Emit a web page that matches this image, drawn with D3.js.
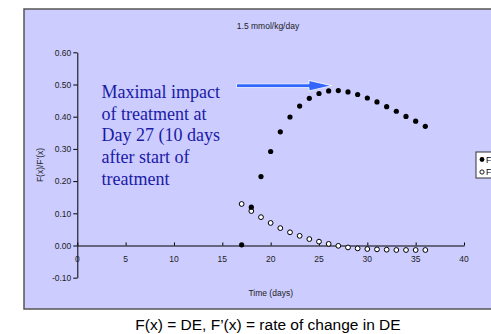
<!DOCTYPE html>
<meta charset="utf-8">
<style>
body { margin: 0; background: #fff; }
text { font-family: Arial, "Liberation Sans", sans-serif; }
</style>
<body>
<script src="https://d3js.org/d3.v7.min.js"></script>
<script>
var width = 491,
    height = 334;

// days, F(x) = DE, F'(x) = rate of change in DE
var days = [17, 18, 19, 20, 21, 22, 23, 24, 25, 26, 27, 28, 29, 30, 31, 32, 33, 34, 35, 36];
var fx = [0.002, 0.119, 0.214, 0.292, 0.353, 0.399, 0.433, 0.457, 0.472, 0.480,
          0.481, 0.477, 0.469, 0.458, 0.446, 0.431, 0.417, 0.401, 0.386, 0.370];
var dfx = [0.129, 0.107, 0.088, 0.070, 0.054, 0.041, 0.030, 0.020, 0.012, 0.005,
           -0.001, -0.006, -0.009, -0.011, -0.012, -0.013, -0.014, -0.014, -0.014, -0.014];
var xTicks = [0, 5, 10, 15, 20, 25, 30, 35, 40];
var yTicks = [-0.1, 0, 0.1, 0.2, 0.3, 0.4, 0.5, 0.6];
var note = ["Maximal impact", "of treatment at", "Day 27 (10 days", "after start of", "treatment"];

var svg = d3.select("body").append("svg")
    .attr("width", width)
    .attr("height", height);

// plot frame
svg.append("rect")
    .attr("x", 24).attr("y", 9)
    .attr("width", 480).attr("height", 300)
    .style("fill", "#ccccff")
    .style("stroke", "#555555")
    .style("stroke-width", 1.5);

var x = d3.scaleLinear().domain([0, 40]).range([77.3, 464]);
var y = d3.scaleLinear().domain([-0.1, 0.6]).range([277.7, 52.3]);

svg.append("text")
    .attr("x", 268).attr("y", 29)
    .attr("text-anchor", "middle")
    .style("font-size", "8.5px")
    .style("fill", "#222")
    .text("1.5 mmol/kg/day");

// y axis (plain hyphen for negatives, like the original)
var fmt = d3.format(".2f");
var yAxis = svg.append("g")
    .attr("transform", "translate(" + x(0) + ",0)")
    .call(d3.axisLeft(y).tickValues(yTicks).tickSize(4).tickSizeOuter(0)
      .tickFormat(function(d) { return fmt(d).replace("\u2212", "-"); }));
yAxis.select(".domain").attr("stroke", "#000").attr("stroke-width", 1);
yAxis.selectAll("text").style("font-size", "8.5px").style("fill", "#222").attr("x", -6);

// x axis at zero, ticks upward
var xAxis = svg.append("g")
    .attr("transform", "translate(0," + y(0) + ")")
    .call(d3.axisTop(x).tickValues(xTicks).tickSize(3).tickSizeOuter(0).tickFormat(""));
xAxis.select(".domain").attr("stroke", "#000").attr("stroke-width", 1);

svg.append("g").selectAll("text")
    .data(xTicks)
    .enter().append("text")
      .attr("x", function(d) { return x(d); })
      .attr("y", y(0) + 16)
      .attr("text-anchor", "middle")
      .style("font-size", "8.5px")
      .style("fill", "#222")
      .text(function(d) { return d; });

svg.append("text")
    .attr("transform", "translate(43," + 165 + ") rotate(-90)")
    .attr("text-anchor", "middle")
    .style("font-size", "8.5px")
    .style("fill", "#222")
    .text("F(x)/F'(x)");

svg.append("text")
    .attr("x", 270.7).attr("y", 296)
    .attr("text-anchor", "middle")
    .style("font-size", "8.5px")
    .style("fill", "#222")
    .text("Time (days)");

// annotation
svg.append("g").selectAll("text")
    .data(note)
    .enter().append("text")
      .attr("x", 101.5)
      .attr("y", function(d, i) { return 98 + i * 21.7; })
      .style("font-family", "'Liberation Serif', 'DejaVu Serif', serif")
      .style("font-size", "18px")
      .style("fill", "#1a1aa6")
      .text(function(d) { return d; });

// arrow
svg.append("path")
    .attr("d", "M236.5,83.8 L309,83.8 L309,80.5 L331.5,85.7 L309,90.9 L309,87.6 L236.5,87.6 Z")
    .style("fill", "#3366ff")
    .style("stroke", "#ffffff")
    .style("stroke-width", 0.8);

// series
svg.append("g").selectAll("circle")
    .data(days)
    .enter().append("circle")
      .attr("cx", function(d) { return x(d); })
      .attr("cy", function(d, i) { return y(dfx[i]); })
      .attr("r", 2.4)
      .style("fill", "#fff")
      .style("stroke", "#000")
      .style("stroke-width", 1);

svg.append("g").selectAll("circle")
    .data(days)
    .enter().append("circle")
      .attr("cx", function(d) { return x(d); })
      .attr("cy", function(d, i) { return y(fx[i]); })
      .attr("r", 2.6)
      .style("fill", "#000");

// legend (runs off the right edge, as in the original slide)
var leg = svg.append("g").attr("transform", "translate(476,152)");
leg.append("rect")
    .attr("width", 40).attr("height", 26)
    .style("fill", "#fff")
    .style("stroke", "#333")
    .style("stroke-width", 1);
leg.append("circle").attr("cx", 6).attr("cy", 7.5).attr("r", 2.4).style("fill", "#000");
leg.append("circle").attr("cx", 6).attr("cy", 20).attr("r", 2.1)
    .style("fill", "#fff").style("stroke", "#000").style("stroke-width", 0.9);
leg.append("text").attr("x", 10).attr("y", 10.5).style("font-size", "8.5px").text("F(x)");
leg.append("text").attr("x", 10).attr("y", 23).style("font-size", "8.5px").text("F'(x)");

// caption
svg.append("text")
    .attr("x", 268).attr("y", 330)
    .attr("text-anchor", "middle")
    .style("font-size", "15.5px")
    .text("F(x) = DE, F\u2019(x) = rate of change in DE");
</script>
</body>
</html>
